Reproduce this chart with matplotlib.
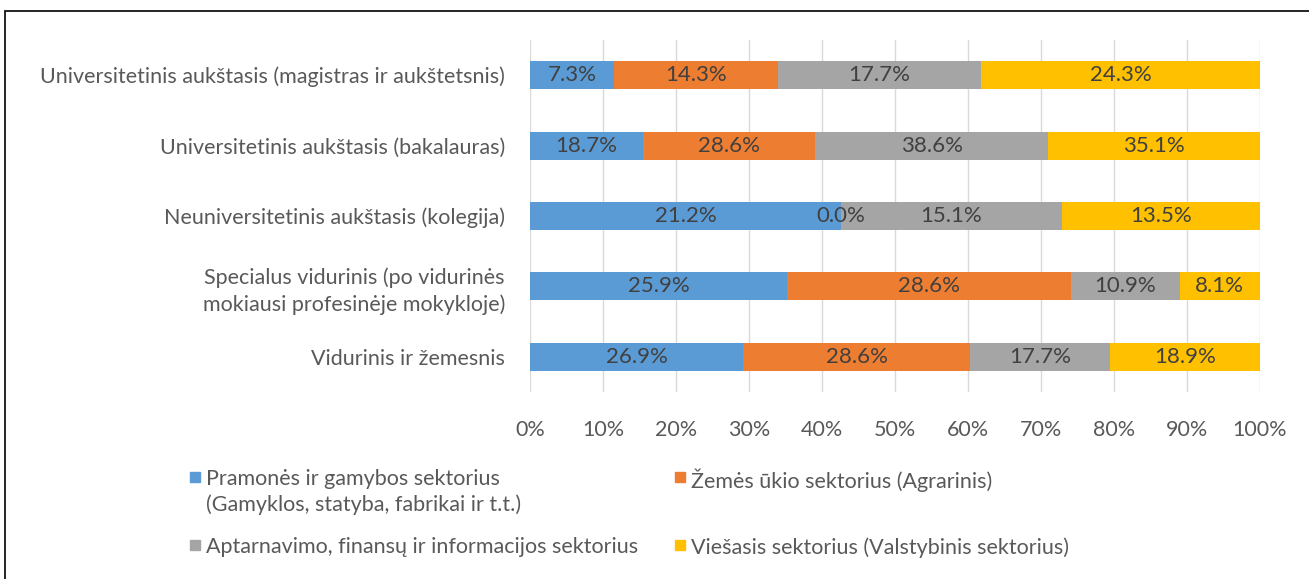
import numpy as np
import matplotlib.pyplot as plt
from matplotlib.patches import Rectangle

plt.rcParams['font.family'] = ['Lato', 'DejaVu Sans']

categories = [
    'Universitetinis aukštasis (magistras ir aukštetsnis)',
    'Universitetinis aukštasis (bakalauras)',
    'Neuniversitetinis aukštasis (kolegija)',
    'Specialus vidurinis (po vidurinės\nmokiausi profesinėje mokykloje)',
    'Vidurinis ir žemesnis',
]
series_names = [
    'Pramonės ir gamybos sektorius\n(Gamyklos, statyba, fabrikai ir t.t.)',
    'Žemės ūkio sektorius (Agrarinis)',
    'Aptarnavimo, finansų ir informacijos sektorius',
    'Viešasis sektorius (Valstybinis sektorius)',
]
pramone = [7.3, 18.7, 21.2, 25.9, 26.9]
zemes_ukis = [14.3, 28.6, 0.0, 28.6, 28.6]
aptarnavimas = [17.7, 38.6, 15.1, 10.9, 17.7]
viesasis = [24.3, 35.1, 13.5, 8.1, 18.9]
colors = ['#5B9BD5', '#ED7D31', '#A5A5A5', '#FFC000']

data = np.array([pramone, zemes_ukis, aptarnavimas, viesasis])
shares = data / data.sum(axis=0) * 100

fig = plt.figure(figsize=(13.09, 5.79), dpi=100)
ax = fig.add_axes([530 / 1309, 1 - 392 / 579, 730 / 1309, 352 / 579])

y = np.arange(len(categories))
left = np.zeros(len(categories))
for i in range(4):
    ax.barh(y, shares[i], left=left, height=0.4, color=colors[i], zorder=2)
    for j in range(len(categories)):
        ax.text(left[j] + shares[i][j] / 2, y[j], '%.1f%%' % data[i][j],
                ha='center', va='center', fontsize=16, color='#404040', zorder=3)
    left += shares[i]

ax.set_xlim(0, 100)
ax.set_ylim(len(categories) - 0.5, -0.5)
ax.set_xticks(np.arange(0, 101, 10))
ax.set_xticklabels(['%d%%' % v for v in range(0, 101, 10)])
ax.set_yticks(y)
ax.set_yticklabels(categories, linespacing=1.35, multialignment='center')
ax.tick_params(axis='both', length=0, labelsize=15.5, colors='#595959')
ax.tick_params(axis='x', pad=20)
ax.tick_params(axis='y', pad=18)
ax.grid(axis='x', color='#D9D9D9', linewidth=1, zorder=0)
for s in ax.spines.values():
    s.set_visible(False)

# legend (square top-left corner in pixels)
leg_pos = [(190, 472), (675, 472), (190, 540), (675, 540)]
for (px, py), name, c in zip(leg_pos, series_names, colors):
    fig.add_artist(Rectangle((px / 1309, 1 - (py + 10) / 579), 10 / 1309, 10 / 579,
                             transform=fig.transFigure, color=c))
    fig.text((px + 16) / 1309, 1 - (py - 3) / 579, name, ha='left', va='top',
             fontsize=15.5, color='#595959', linespacing=1.35)

# outer frame
fig.add_artist(Rectangle((5 / 1309, -0.1), 1.2, 1 - 11 / 579 + 0.1,
                         transform=fig.transFigure, fill=False,
                         edgecolor='black', linewidth=1.2))

fig.savefig('out.png', dpi=100)
